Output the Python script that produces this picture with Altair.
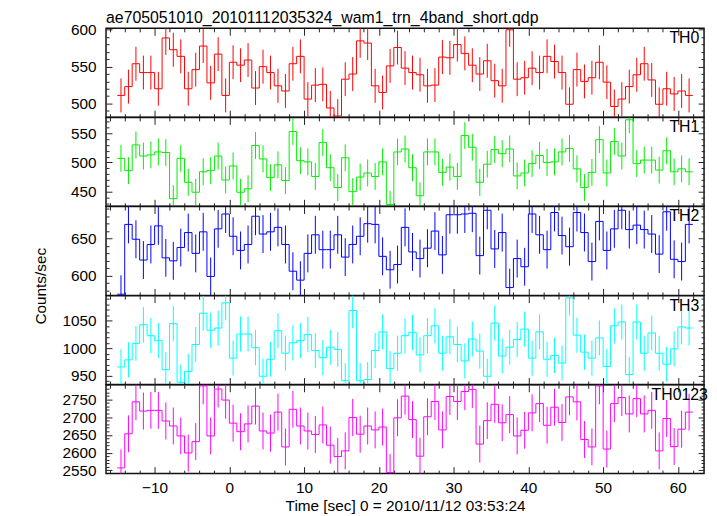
import math
import altair as alt
import pandas as pd

# ---------------- data ----------------
bands = ["TH0", "TH1", "TH2", "TH3", "TH0123"]
colors = ["#ff0000", "#00ee00", "#0000ff", "#00ffff", "#ff00ff"]

time_start = -15.0   # left edge of first 1-s bin
bin_size = 1.0

th0 = [511, 523, 554, 542, 542, 520, 589, 573, 564, 520,
       546, 578, 528, 567, 511, 556, 552, 559, 521, 550,
       542, 524, 517, 554, 564, 506, 525, 526, 494, 483,
       533, 540, 585, 582, 524,
       515, 551, 576, 548, 542, 539, 524, 525, 563, 562,
       580, 568, 552, 540, 558, 531, 524, 600, 533, 535,
       548, 542, 564, 557, 542, 499, 546, 530, 535, 556,
       529, 496, 506, 523, 539, 554, 532, 499, 520, 513,
       517, 511]
th1 = [507, 486, 530, 511, 513, 518, 517, 438, 507, 466,
       449, 484, 486, 511, 470, 494, 449, 455, 529, 506,
       474, 496, 469, 553, 503, 501, 476, 534, 491, 457,
       508, 450, 475, 482, 476,
       501, 428, 518, 523, 491, 443, 518, 518, 483, 492,
       476, 546, 526, 466, 497, 522, 515, 523, 477, 482,
       498, 512, 500, 501, 518, 524, 489, 457, 483, 539,
       482, 536, 511, 573, 498, 504, 504, 487, 520, 484,
       489, 484]
th2 = [575, 669, 649, 621, 642, 667, 624, 620, 638, 658,
       630, 659, 599, 663, 683, 653, 634, 642, 680, 656,
       659, 665, 642, 606, 594, 630, 655, 635, 635, 655,
       625, 642, 653, 670, 669,
       626, 608, 615, 665, 632, 623, 637, 660, 628, 682,
       682, 683, 684, 627, 688, 636, 658, 584, 623, 612,
       683, 655, 635, 685, 654, 639, 685, 658, 619, 673,
       634, 663, 688, 662, 668, 662, 656, 629, 686, 622,
       619, 669]
th3 = [966, 979, 1009, 1043, 1023, 1014, 961, 1045, 938, 958,
       1007, 1064, 1033, 1037, 1083, 982, 1026, 1026, 1001, 949,
       980, 1032, 991, 1010, 1014, 1025, 996, 983, 1002, 998,
       941, 1069, 941, 943, 996,
       1030, 963, 991, 1023, 1029, 988, 1023, 1041, 991, 1021,
       1007, 977, 1017, 995, 949, 1046, 986, 1002, 1016, 1035,
       982, 1030, 980, 987, 973, 1092, 1024, 993, 982, 1019,
       967, 1041, 1048, 952, 1048, 991, 1028, 991, 971, 999,
       1039, 1037]
th0123 = [2557, 2653, 2743, 2717, 2719, 2719, 2689, 2675, 2647, 2599,
          2631, 2788, 2647, 2779, 2748, 2683, 2659, 2681, 2731, 2661,
          2655, 2714, 2616, 2722, 2675, 2661, 2651, 2678, 2621, 2589,
          2605, 2699, 2652, 2675, 2664,
          2672, 2544, 2698, 2759, 2693, 2590, 2701, 2744, 2664, 2758,
          2744, 2772, 2778, 2624, 2690, 2736, 2684, 2707, 2647, 2663,
          2712, 2738, 2677, 2728, 2685, 2757, 2743, 2637, 2616, 2788,
          2610, 2738, 2755, 2709, 2752, 2709, 2719, 2605, 2696, 2617,
          2666, 2714]
series = [th0, th1, th2, th3, th0123]
errors = [23, 23, 25.5, 32, 52]

y_domains = [[481.5, 602], [425, 577], [573.5, 693], [934, 1096], [2541, 2791]]
y_major = [[500, 550, 600], [450, 500, 550], [600, 650], [950, 1000, 1050],
           [2550, 2600, 2650, 2700, 2750]]
y_minor_step = [10, 10, 10, 10, 10]

x_domain = [-16.5, 63.5]
x_labels = [-10, 0, 10, 20, 30, 40, 50, 60]
x_minor_step = 2

title_text = "ae705051010_20101112035324_wam1_trn_4band_short.qdp"
x_title = "Time [sec] 0 = 2010/11/12 03:53:24"
y_title = "Counts/sec"

# ---------------- style ----------------
W = 604
H = 89.7
FONT = "Liberation Sans"
label_x = [569, 569, 569, 569, 551]

x_ticks_all = list(range(-16, 64, x_minor_step))


def panel(i):
    band = bands[i]
    vals = series[i]
    err = errors[i]
    col = colors[i]
    n = len(vals)
    centers = [time_start + bin_size * (k + 0.5) for k in range(n)]
    df = pd.DataFrame({"t": centers, "v": vals})
    df["lo"] = df["v"] - err
    df["hi"] = df["v"] + err
    edges = [time_start + bin_size * k for k in range(n + 1)]
    step_df = pd.DataFrame({"t": edges, "v": vals + [vals[-1]]})

    lo_d, hi_d = y_domains[i]
    xs = alt.Scale(domain=x_domain, nice=False, zero=False)
    ys = alt.Scale(domain=[lo_d, hi_d], nice=False, zero=False)
    st = y_minor_step[i]
    minor = list(range(int(math.ceil(lo_d / st) * st), int(hi_d) + 1, st))

    cond_y = {"condition": {"test": "datum.value % 50 === 0", "value": 6}, "value": 3}
    cond_x = {"condition": {"test": "datum.value % 10 === 0", "value": 7}, "value": 3.5}

    last = i == len(bands) - 1
    if last:
        x_lab_axis = alt.Axis(orient="bottom", values=x_labels, ticks=False, tickSize=0,
                              domain=False, grid=False, labelPadding=7, labelFlush=False,
                              labelOverlap=False, title=x_title, titlePadding=3, format="d")
    else:
        x_lab_axis = None

    ykw = dict(orient="left", values=y_major[i], ticks=False, tickSize=0, domain=False,
               grid=False, labelPadding=10, labelOverlap=False, labelFlush=False, format="d")
    if band == "TH2":
        ykw.update(title=y_title, titleX=-66, titleY=80, titleAngle=270,
                   titleAlign="center", titleBaseline="middle")
    else:
        ykw.update(title=None)
    y_lab_axis = alt.Axis(**ykw)

    line = alt.Chart(step_df).mark_line(
        interpolate="step-after", color=col, strokeWidth=1, clip=True
    ).encode(
        x=alt.X("t:Q", scale=xs, axis=x_lab_axis),
        y=alt.Y("v:Q", scale=ys, axis=y_lab_axis),
    )

    up = alt.Chart(df).mark_rule(color=col, strokeWidth=1, clip=True).encode(
        x=alt.X("t:Q", scale=xs,
                axis=alt.Axis(orient="top", offset=-H, values=x_ticks_all, labels=False,
                              domain=False, grid=False, tickSize=cond_x, title=None)),
        y=alt.Y("v:Q", scale=ys,
                axis=alt.Axis(orient="right", offset=-W, values=minor, labels=False,
                              domain=False, grid=False, tickSize=cond_y, title=None)),
        y2="hi:Q",
    )

    down = alt.Chart(df).mark_rule(color=col, strokeWidth=1, clip=True).encode(
        x=alt.X("t:Q", scale=xs,
                axis=alt.Axis(orient="bottom", offset=-H, values=x_ticks_all, labels=False,
                              domain=False, grid=False, tickSize=cond_x, title=None)),
        y=alt.Y("lo:Q", scale=ys,
                axis=alt.Axis(orient="left", offset=-W, values=minor, labels=False,
                              domain=False, grid=False, tickSize=cond_y, title=None)),
        y2="v:Q",
    )

    label = alt.Chart(pd.DataFrame({"name": [band]})).mark_text(
        align="left", baseline="alphabetic", fontSize=16, font=FONT, color="black"
    ).encode(text="name:N", x=alt.value(label_x[i]), y=alt.value(15))

    layer = alt.layer(line, up, down, label).resolve_axis(
        x="independent", y="independent"
    ).properties(width=W, height=H)
    if i == 0:
        layer = layer.properties(
            title=alt.TitleParams(text=title_text, anchor="start", frame="group", offset=-16.5,
                                  baseline="alphabetic", fontSize=16, font=FONT,
                                  fontWeight="normal", color="black")
        )
    return layer


chart = alt.vconcat(*[panel(i) for i in range(len(bands))], spacing=0, bounds="flush").properties(
    padding={"left": 25, "top": -1, "right": 0, "bottom": 0}
).configure_view(
    stroke="#111111", strokeWidth=1.5
).configure_axis(
    labelFont=FONT, titleFont=FONT, labelFontSize=15.5, titleFontSize=15.5,
    labelColor="black", titleColor="black", titleFontWeight="normal",
    tickColor="#222222", tickWidth=1
)

chart.save("out.html", embed_options={"renderer": "svg", "actions": False})
